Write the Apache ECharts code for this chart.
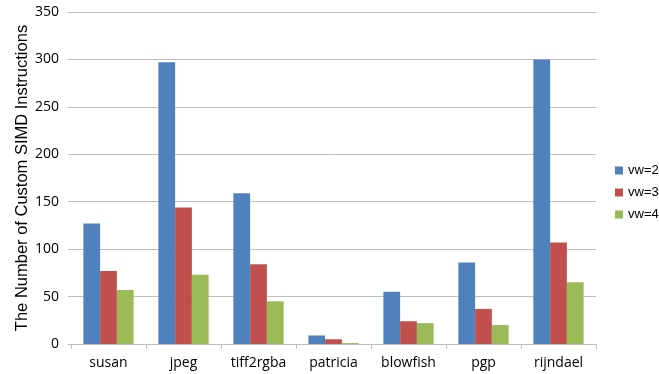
<!DOCTYPE html>
<html>
<head>
<meta charset="utf-8">
<script src="https://cdn.jsdelivr.net/npm/echarts@6/dist/echarts.min.js"></script>
<style>
  html, body { margin: 0; padding: 0; background: #fff; }
  #main { width: 659px; height: 374px; }
</style>
</head>
<body>
<div id="main"></div>
<script>
var categories = ['susan', 'jpeg', 'tiff2rgba', 'patricia', 'blowfish', 'pgp', 'rijndael'];
var vw2 = [127, 297, 159, 9, 55, 86, 300];
var vw3 = [77, 144, 84, 5, 24, 37, 107];
var vw4 = [57, 73, 45, 1, 22, 20, 65];
var yTicks = [0, 50, 100, 150, 200, 250, 300, 350];

var myChart = echarts.init(document.getElementById('main'));

var option = {
  backgroundColor: '#ffffff',
  animation: false,
  grid: {
    left: 71,
    right: 63,
    top: 12,
    bottom: 30
  },
  legend: {
    orient: 'vertical',
    left: 610,
    top: 159,
    icon: 'rect',
    itemWidth: 8,
    itemHeight: 8,
    itemGap: 9,
    textStyle: { fontFamily: 'Liberation Sans', fontSize: 13, color: '#000' },
    data: ['vw=2', 'vw=3', 'vw=4']
  },
  xAxis: {
    type: 'category',
    data: categories,
    axisLine: { lineStyle: { color: '#BFBFBF' } },
    axisTick: { show: true, length: 5, lineStyle: { color: '#BFBFBF' } },
    axisLabel: { fontFamily: 'Open Sans', fontSize: 14, color: '#000', margin: 12, interval: 0 }
  },
  yAxis: {
    type: 'value',
    min: yTicks[0],
    max: yTicks[yTicks.length - 1],
    interval: 50,
    name: 'The Number of Custom SIMD Instructions',
    nameLocation: 'middle',
    nameGap: 40,
    nameMoveOverlap: false,
    nameTextStyle: { fontFamily: 'Liberation Sans', fontSize: 16.5, color: '#000' },
    axisLine: { show: false },
    axisTick: { show: true, length: 3, lineStyle: { color: '#BFBFBF' } },
    splitLine: { lineStyle: { color: '#BFBFBF' } },
    axisLabel: { fontFamily: 'Open Sans', fontSize: 14, color: '#000', margin: 12 }
  },
  series: [
    { name: 'vw=2', type: 'bar', data: vw2, color: '#4F81BD', barGap: '0%', barCategoryGap: '33%' },
    { name: 'vw=3', type: 'bar', data: vw3, color: '#C0504D' },
    { name: 'vw=4', type: 'bar', data: vw4, color: '#9BBB59' }
  ]
};

myChart.setOption(option);
</script>
</body>
</html>
